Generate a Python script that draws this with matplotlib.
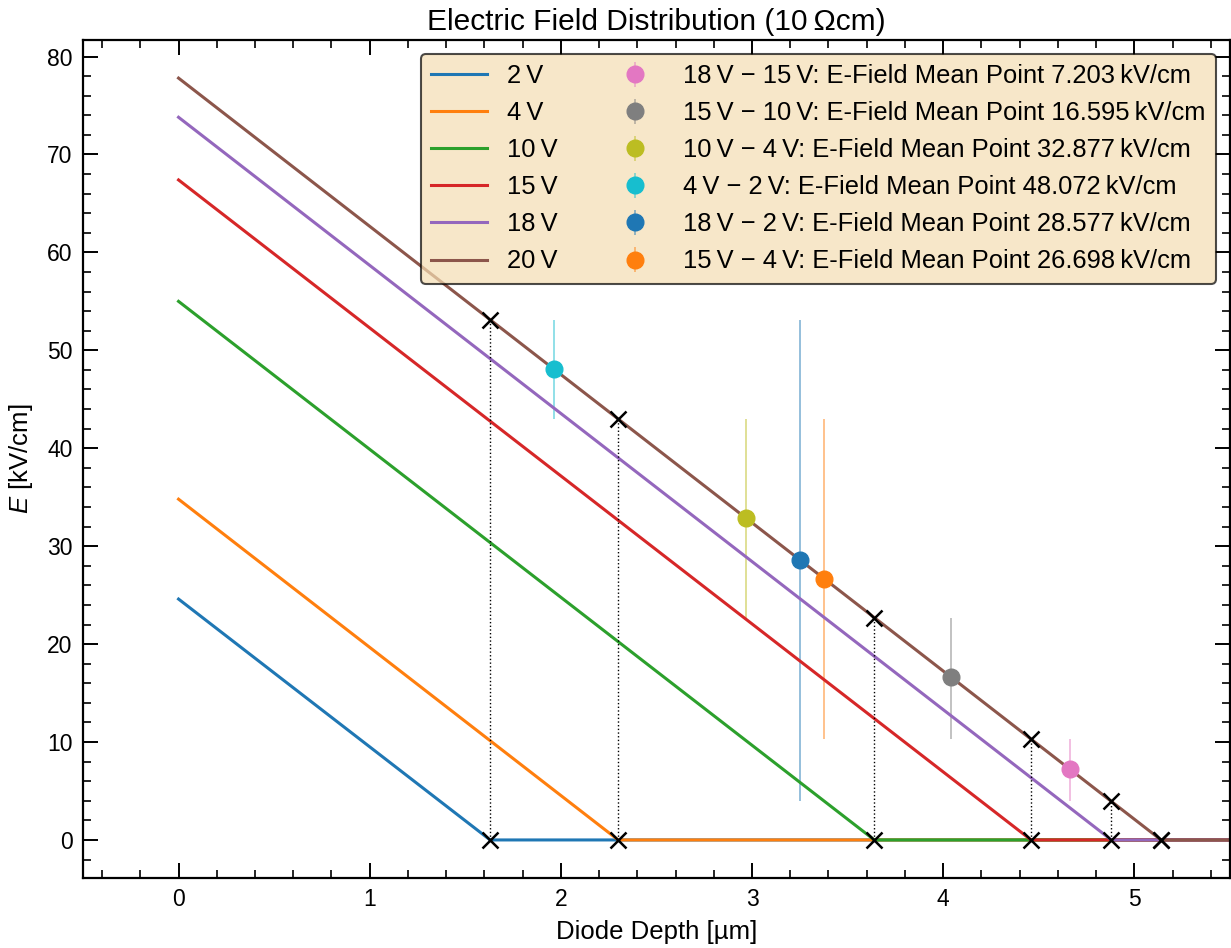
import numpy as np
import matplotlib
matplotlib.use("Agg")
import matplotlib.pyplot as plt
from matplotlib.ticker import MultipleLocator

plt.rcParams["font.family"] = ["Liberation Sans", "DejaVu Sans"]
plt.rcParams["mathtext.fontset"] = "custom"
plt.rcParams["mathtext.rm"] = "Liberation Sans"
plt.rcParams["mathtext.it"] = "Liberation Sans:italic"

# Reverse bias voltages and the field profile of each (triangular, one-sided junction)
voltages = [2, 4, 10, 15, 18, 20]                    # V
e_surface = [24.6, 34.8, 55.0, 67.4, 73.8, 77.8]     # kV/cm at x = 0
depletion_width = [1.63, 2.30, 3.64, 4.46, 4.88, 5.14]  # um
x_end = 5.5

# Voltage pairs whose depletion edges bound each averaging interval on the 20 V profile
pair_high = [18, 15, 10, 4, 18, 15]
pair_low = [15, 10, 4, 2, 2, 4]
mean_field = [7.203, 16.595, 32.877, 48.072, 28.577, 26.698]  # kV/cm

line_colors = ["tab:blue", "tab:orange", "tab:green", "tab:red", "tab:purple", "tab:brown"]
point_colors = ["tab:pink", "tab:gray", "tab:olive", "tab:cyan", "tab:blue", "tab:orange"]

fig = plt.figure(figsize=(12.31, 9.48), dpi=100)
ax = fig.add_axes([0.0674, 0.0738, 0.9317, 0.884])

handles = []
profiles = {}
for v, e0, w, c in zip(voltages, e_surface, depletion_width, line_colors):
    xs = np.array([0.0, w, x_end])
    ys = np.array([e0, 0.0, 0.0])
    profiles[v] = (xs, ys)
    (h,) = ax.plot(xs, ys, color=c, lw=2.2, label=f"{v}\u2009V", zorder=2)
    handles.append(h)

x_top, y_top = profiles[voltages[-1]]


def field_top(x):
    return np.interp(x, x_top, y_top)


def depth_top(e):
    # the 20 V profile is monotonically decreasing on [0, w]
    return np.interp(e, y_top[:2][::-1], x_top[:2][::-1])


width_of = dict(zip(voltages, depletion_width))

# Depletion edges: crosses on the axis and on the 20 V profile, joined by dotted lines
for v in voltages:
    w = width_of[v]
    et = field_top(w)
    if et > 0:
        ax.plot([w, w], [0, et], color="black", ls=":", lw=1.0, zorder=2.5)
    ax.plot([w, w], [0, et], ls="none", marker="x", ms=11, mew=1.8,
            color="black", zorder=4)

# Mean field points with range bars spanning the interval on the 20 V profile
for hi, lo, m, c in zip(pair_high, pair_low, mean_field, point_colors):
    e_hi = field_top(width_of[lo])
    e_lo = field_top(width_of[hi])
    xm = depth_top(m)
    label = f"{hi}\u2009V \u2212 {lo}\u2009V: E-Field Mean Point {m:.3f}\u2009kV/cm"
    eb = ax.errorbar([xm], [m], yerr=[[m - e_lo], [e_hi - m]], fmt="o",
                     color=c, ms=12, elinewidth=1.1, zorder=3, label=label)
    for bl in eb[2]:
        bl.set_alpha(0.6)
        bl.set_zorder(1.5)
    handles.append(eb)

ax.set_xlim(-0.5, 5.5)
ax.set_ylim(-3.89, 81.69)
ax.xaxis.set_major_locator(MultipleLocator(1))
ax.xaxis.set_minor_locator(MultipleLocator(0.2))
ax.yaxis.set_major_locator(MultipleLocator(10))
ax.yaxis.set_minor_locator(MultipleLocator(2))
ax.tick_params(which="both", direction="in", top=True, right=True,
               labelsize=16.5, pad=7.5)
ax.tick_params(which="major", length=11, width=1.4)
ax.tick_params(which="minor", length=5.5, width=1.2)
for sp in ax.spines.values():
    sp.set_linewidth(1.6)

ax.set_xlabel("Diode Depth [\u00b5m]", fontsize=18.5, labelpad=6)
ax.set_ylabel("$E$ [kV/cm]", fontsize=18.5, labelpad=9)
ax.set_title("Electric Field Distribution (10\u2009\u03a9cm)", fontsize=21.5, pad=7)

leg = ax.legend(handles=handles, ncol=2, loc="upper right", fontsize=18.4,
                frameon=True, fancybox=True, facecolor="wheat", edgecolor="black",
                framealpha=0.7, handlelength=2.2, columnspacing=1.9,
                borderaxespad=0.55, labelspacing=0.51)
leg.get_frame().set_linewidth(1.5)

fig.savefig("out.png", dpi=100)
